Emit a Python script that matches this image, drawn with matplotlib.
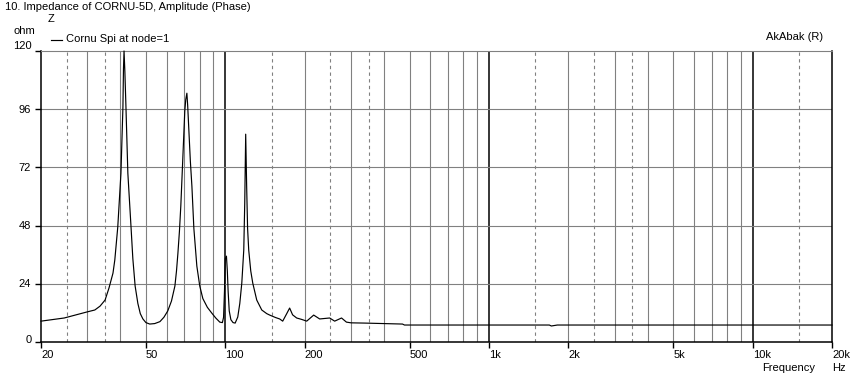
import numpy as np
import matplotlib
matplotlib.use("Agg")
import matplotlib.pyplot as plt

plt.rcParams['font.family'] = ['Liberation Sans', 'DejaVu Sans']

# impedance curve (Hz, ohm)
freq = [20, 24.5, 29.9, 32.0, 33.5, 35.0, 36.2, 37.5, 38.1, 39.1, 40.2, 40.9,
        41.1, 41.3, 41.6, 42.0, 42.7, 43.9, 44.6, 45.5, 46.6, 47.6, 48.7, 50.0,
        51.7, 54.0, 56.5, 58.5, 60.5, 62.5, 64.4, 65.3, 66.1, 67.0, 67.8, 69.0,
        70.2, 70.8, 71.5, 72.0, 72.7, 73.7, 74.7, 76.0, 78.0, 80.0, 82.2, 85.5,
        88.9, 92.0, 95.3, 97.5, 98.5, 99.3, 100.0, 101.0, 101.8, 102.5, 103.5,
        105.0, 107.0, 109.0, 111.5, 113.5, 115.5, 117.5, 118.5, 119.5, 120.5,
        121.5, 122.7, 124.9, 127.1, 131.6, 137.5, 143.6, 147.4, 155, 160.8,
        165.1, 171, 175.4, 180, 186.5, 195, 203.6, 216.4, 228, 238, 248.8,
        259.9, 276, 288, 300, 338, 470, 478, 1694, 1724, 1817, 20000]
imped = [8.6, 9.9, 12.4, 13.2, 14.8, 17.3, 22.2, 28.4, 33.8, 47.4, 69.6, 96.8,
         112.7, 120.0, 111.6, 96.8, 69.6, 47.4, 34.4, 23.1, 15.9, 11.7, 9.5, 8.0,
         7.4, 7.6, 8.4, 10.2, 12.8, 16.9, 23.1, 29.3, 36.5, 45.7, 56.0, 75.6,
         95.2, 100.0, 102.6, 97.5, 88.0, 74.6, 64.3, 46.8, 31.3, 23.1, 17.9, 14.3,
         11.9, 9.9, 8.2, 8.0, 10.2, 21.0, 34.4, 35.4, 29.3, 21.0, 12.8,
         9.2, 8.0, 7.8, 10.3, 15.9, 24.3, 37.9, 57.1, 85.7, 64.3,
         46.8, 37.9, 29.3, 24.3, 17.3, 13.2, 11.7, 11.1, 10.1, 9.5,
         8.6, 11.7, 14.0, 11.2, 9.9, 9.3, 8.6, 11.1, 9.5, 9.7, 9.9,
         8.6, 9.9, 8.2, 7.9, 7.8, 7.4, 7.0, 7.0, 6.6, 7.0, 7.0]

xticks = [20, 50, 100, 200, 500, 1000, 2000, 5000, 10000, 20000]
xticklabels = ['20', '50', '100', '200', '500', '1k', '2k', '5k', '10k', '20k']
yticks = [0, 24, 48, 72, 96, 120]
decades = [100, 1000, 10000]
solid_grid = [30, 40, 50, 60, 70, 80, 90,
              200, 300, 400, 500, 600, 700, 800, 900,
              2000, 3000, 4000, 5000, 6000, 7000, 8000, 9000]
dashed_grid = [25, 35, 150, 250, 350, 1500, 2500, 3500, 15000]

W, H = 852, 380
fig = plt.figure(figsize=(W / 100, H / 100), dpi=100)
ax = fig.add_axes([41 / W, 1 - 342 / H, (832 - 41) / W, 291 / H])
ax.set_xscale('log')
ax.set_xlim(20, 20000)
ax.set_ylim(0, 120)

grey = '#808080'
for f in solid_grid:
    ax.axvline(f, color=grey, lw=0.8, zorder=1)
for f in dashed_grid:
    ax.axvline(f, color=grey, lw=0.8, ls=(0, (3, 3)), zorder=1)
for f in decades:
    ax.axvline(f, color='black', lw=1.1, zorder=1)
for v in yticks[1:-1]:
    ax.axhline(v, color=grey, lw=0.8, zorder=1)

ax.plot(freq, imped, color='black', lw=0.85, zorder=3, clip_on=False)

ax.spines['top'].set_color(grey)
ax.spines['top'].set_linewidth(0.8)
for s in ['left', 'bottom', 'right']:
    ax.spines[s].set_color('black')
    ax.spines[s].set_linewidth(1.1)

ax.set_xticks(xticks)
ax.set_xticklabels([])
ax.xaxis.set_minor_locator(matplotlib.ticker.NullLocator())
ax.set_yticks(yticks)
ax.set_yticklabels([])
ax.tick_params(axis='both', direction='out', length=4, width=1, color='black')

fs = 8
for f, lab in zip(xticks, xticklabels):
    ax.annotate(lab, (f, 0), xytext=(0, -6), textcoords='offset points',
                ha='left', va='top', fontsize=fs)
# end labels are pulled inside, the middle ones are centred on their lines
for v in yticks:
    dy = 3.5 if v == 120 else (1.5 if v == 0 else -0.5)
    ax.annotate(str(v), (20, v), xytext=(-7, dy), textcoords='offset points',
                ha='right', va='center', fontsize=fs)

fig.text(5 / W, 1 - 2 / H, '10. Impedance of CORNU-5D, Amplitude (Phase)',
         ha='left', va='top', fontsize=fs)
fig.text(48 / W, 1 - 13.5 / H, 'Z', ha='left', va='top', fontsize=fs)
fig.text(13 / W, 1 - 26 / H, 'ohm', ha='left', va='top', fontsize=fs)
fig.add_artist(plt.Line2D([51 / W, 62 / W], [1 - 40 / H, 1 - 40 / H],
                          color='black', lw=0.85))
fig.text(66 / W, 1 - 34.5 / H, 'Cornu Spi at node=1', ha='left', va='top',
         fontsize=fs)
fig.text(766 / W, 1 - 32.5 / H, 'AkAbak (R)', ha='left', va='top', fontsize=fs)
fig.text(762 / W, 1 - 363 / H, 'Frequency', ha='left', va='top', fontsize=fs)
fig.text(832 / W, 1 - 363 / H, 'Hz', ha='left', va='top', fontsize=fs)

fig.savefig('out.png', dpi=100, facecolor='white')
